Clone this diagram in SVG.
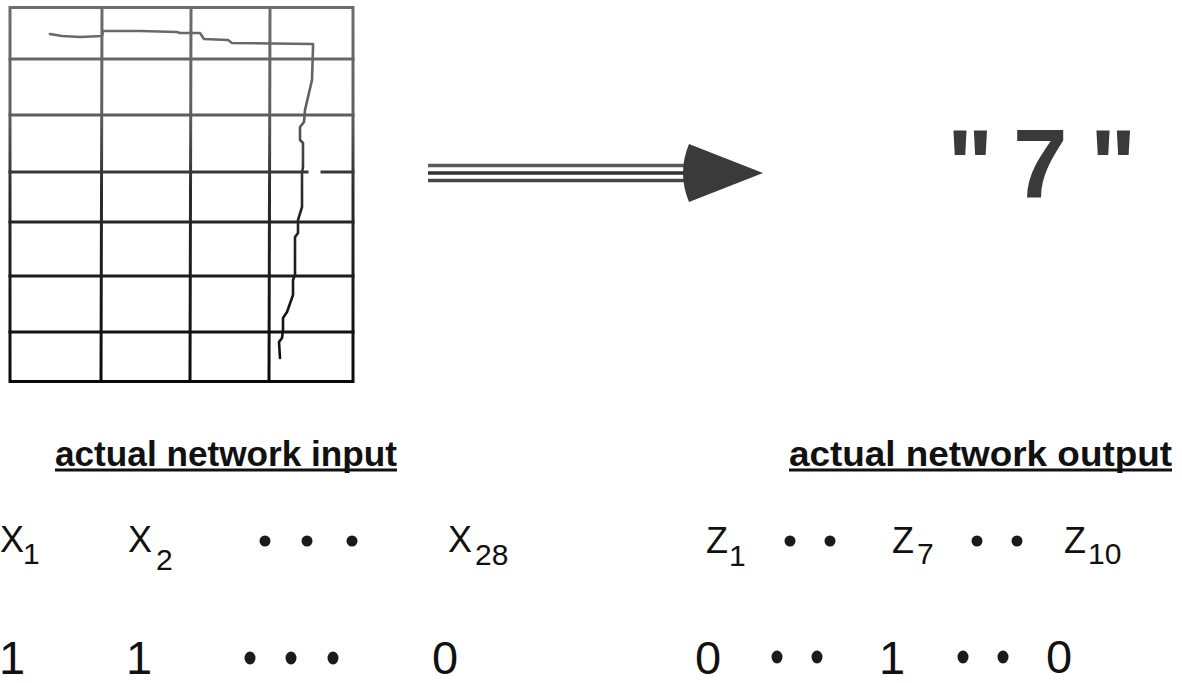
<svg xmlns="http://www.w3.org/2000/svg" width="1182" height="683" viewBox="0 0 1182 683">
  <defs>
    <linearGradient id="gridGrad" gradientUnits="userSpaceOnUse" x1="0" y1="0" x2="0" y2="383">
      <stop offset="0" stop-color="#6e6e6e"/>
      <stop offset="0.3" stop-color="#5e5e5e"/>
      <stop offset="0.5" stop-color="#2a2a2a"/>
      <stop offset="1" stop-color="#0a0a0a"/>
    </linearGradient>
  </defs>
  <style>
    .grid { stroke: url(#gridGrad); stroke-width: 3; fill: none; stroke-linecap: square; }
    .pen { stroke: url(#gridGrad); stroke-width: 2.6; fill: none; stroke-linejoin: round; stroke-linecap: round; }
    .lbl { font-family: "Liberation Sans", Arial, sans-serif; font-weight: bold; font-size: 35px; fill: #111; }
    .ul { stroke: #111; stroke-width: 3; }
    .var { font-family: "Liberation Sans", Arial, sans-serif; font-size: 36px; fill: #111; }
    .sub { font-family: "Liberation Sans", Arial, sans-serif; font-size: 30px; fill: #111; }
    .val { font-family: "Liberation Sans", Arial, sans-serif; font-size: 47px; fill: #111; }
    .dot { fill: #1a1a1a; }
    .big { font-family: "Liberation Sans", Arial, sans-serif; font-weight: bold; font-size: 98px; fill: #3a3a3a; }
    .shaft { stroke-width: 3.6; fill: none; }
  </style>
  <rect width="1182" height="683" fill="#ffffff"/>

  <g id="input-grid">
    <rect class="grid" x="10" y="7.5" width="343" height="374"/>
    <line class="grid" x1="102" y1="7.5" x2="101" y2="381.5"/>
    <line class="grid" x1="191" y1="7.5" x2="190" y2="381.5"/>
    <line class="grid" x1="270" y1="7.5" x2="269" y2="381.5"/>
    <line class="grid" x1="10" y1="59" x2="353" y2="59"/>
    <line class="grid" x1="10" y1="115" x2="353" y2="115"/>
    <line class="grid" x1="10" y1="172" x2="307" y2="172"/>
    <line class="grid" x1="322" y1="172" x2="353" y2="172"/>
    <line class="grid" x1="10" y1="222" x2="353" y2="222"/>
    <line class="grid" x1="10" y1="276" x2="353" y2="276"/>
    <line class="grid" x1="10" y1="332" x2="353" y2="332"/>
    <path class="pen" d="M50,34 L62,36 L80,37 L102,36 L103,31 L140,31 L177,32 L180,33 L200,33 L204,39 L228,40 L232,43 L313,44 L313,48 L312,80 L305,110 L304,122 L300,127 L300,140 L303,143 L303,167 L302,173 L302,207 L298,220 L298,233 L295,237 L295,275 L293,280 L293,295 L287,312 L283,318 L283,330 L282,338 L279,342 L280,358"/>
  </g>

  <g id="connectors">
    <line class="shaft" x1="428" y1="165.5" x2="692" y2="165.5" stroke="#5a5a5a"/>
    <line class="shaft" x1="428" y1="173" x2="692" y2="173" stroke="#333333"/>
    <line class="shaft" x1="428" y1="180.5" x2="692" y2="180.5" stroke="#474747"/>
    <path d="M689,144 L763,173 L689,202 Q677,173 689,144 Z" fill="#3a3a3a"/>
  </g>

  <g id="output-digit">
    <text class="big" x="947" y="198">"</text>
    <text class="big" x="1013" y="198">7</text>
    <text class="big" x="1090" y="198">"</text>
  </g>

  <g id="label-input">
    <text class="lbl" x="55" y="466" textLength="342" lengthAdjust="spacingAndGlyphs">actual network input</text>
    <line class="ul" x1="55" y1="470" x2="397" y2="470"/>
  </g>

  <g id="label-output">
    <text class="lbl" x="789" y="466" textLength="383" lengthAdjust="spacingAndGlyphs">actual network output</text>
    <line class="ul" x1="789" y1="470" x2="1172" y2="470"/>
  </g>

  <g id="input-variables">
    <text class="var" x="0" y="552">X</text><text class="sub" x="23" y="564">1</text>
    <text class="var" x="128" y="552">X</text><text class="sub" x="156" y="570">2</text>
    <circle class="dot" cx="265" cy="541" r="5.5"/>
    <circle class="dot" cx="307" cy="541" r="5.5"/>
    <circle class="dot" cx="352" cy="541" r="5.5"/>
    <text class="var" x="448" y="552">X</text><text class="sub" x="475" y="565">28</text>
  </g>

  <g id="output-variables">
    <text class="var" x="706" y="553">Z</text><text class="sub" x="729" y="566">1</text>
    <circle class="dot" cx="790" cy="541" r="5.5"/>
    <circle class="dot" cx="830" cy="541" r="5.5"/>
    <text class="var" x="892" y="553">Z</text><text class="sub" x="917" y="564">7</text>
    <circle class="dot" cx="977" cy="541" r="5.5"/>
    <circle class="dot" cx="1017" cy="541" r="5.5"/>
    <text class="var" x="1064" y="553">Z</text><text class="sub" x="1088" y="564">10</text>
  </g>

  <g id="input-values">
    <text class="val" x="12" y="674" text-anchor="middle">1</text>
    <text class="val" x="139" y="674" text-anchor="middle">1</text>
    <ellipse class="dot" cx="250" cy="658" rx="5.5" ry="6.5"/>
    <ellipse class="dot" cx="291" cy="658" rx="5.5" ry="6.5"/>
    <ellipse class="dot" cx="333" cy="658" rx="5.5" ry="6.5"/>
    <text class="val" x="445" y="674" text-anchor="middle">0</text>
  </g>

  <g id="output-values">
    <text class="val" x="708" y="674" text-anchor="middle">0</text>
    <ellipse class="dot" cx="777" cy="657" rx="5.5" ry="6.5"/>
    <ellipse class="dot" cx="817" cy="657" rx="5.5" ry="6.5"/>
    <text class="val" x="892" y="674" text-anchor="middle">1</text>
    <ellipse class="dot" cx="963" cy="657" rx="5.5" ry="6.5"/>
    <ellipse class="dot" cx="1003" cy="657" rx="5.5" ry="6.5"/>
    <text class="val" x="1059" y="673" text-anchor="middle">0</text>
  </g>
</svg>
